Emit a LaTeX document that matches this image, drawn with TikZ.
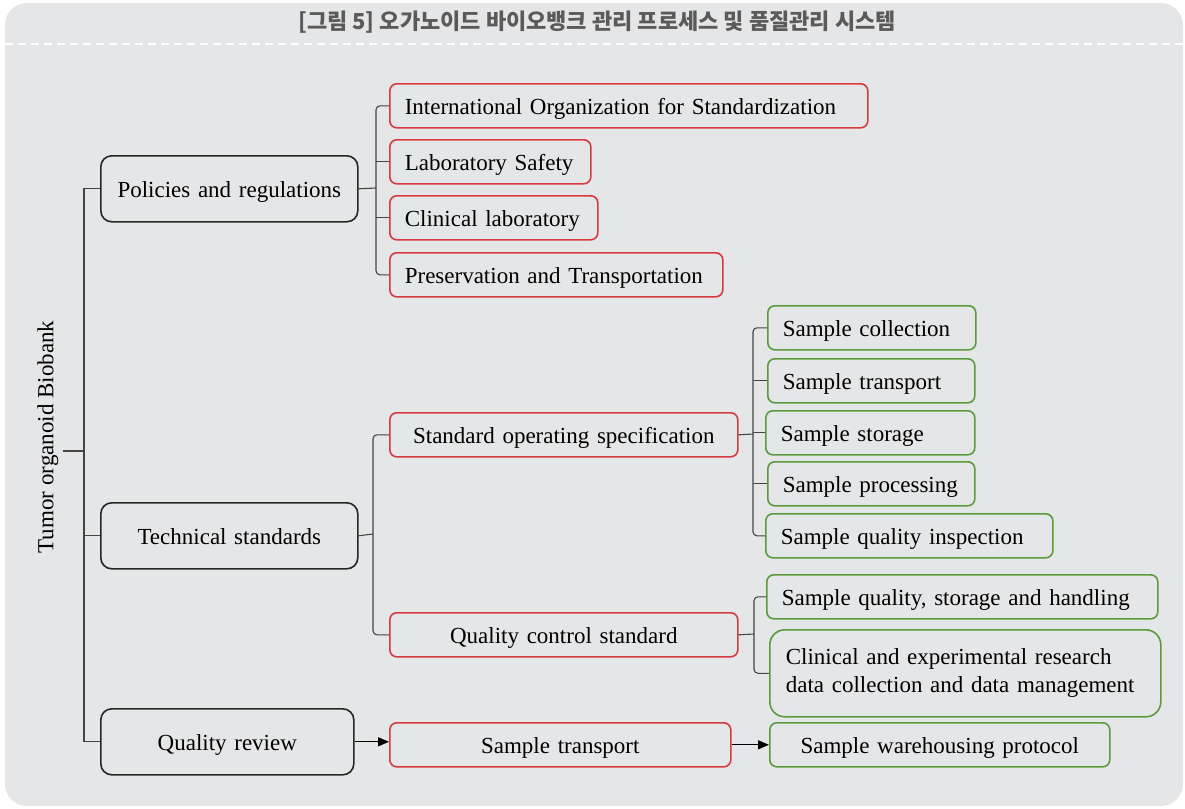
\documentclass[tikz,border=0pt]{standalone}
\usepackage{fontspec}
\setmainfont{Liberation Serif}
\newfontfamily\krfont{Noto Sans CJK KR}
\usetikzlibrary{arrows.meta}
\definecolor{panelgray}{HTML}{E5E6E8}
\definecolor{titlegray}{HTML}{5A5A5A}
\definecolor{boxred}{HTML}{D63A3F}
\definecolor{boxgreen}{HTML}{5B9B3C}
\definecolor{boxblack}{HTML}{262626}
\definecolor{linegray}{HTML}{444444}
\newcommand\diafont{\fontsize{23}{28}\selectfont}

\begin{document}
\begin{tikzpicture}[x=1pt,y=-1pt,
  box/.style={rounded corners=7pt, line width=1.6pt, inner xsep=15pt, inner ysep=0pt,
    anchor=north west, minimum height=44pt, font=\diafont, text=black,
    text height=20pt, text depth=2pt},
  topbox/.style={box, draw=boxblack, rounded corners=11pt, minimum height=66pt, align=center},
  redbox/.style={box, draw=boxred},
  greenbox/.style={box, draw=boxgreen},
  conn/.style={draw=linegray, line width=1.1pt},
  brk/.style={conn, rounded corners=4pt},
  arr/.style={conn, -{Triangle[length=11pt,width=9pt]}, draw=black}]
\useasboundingbox (0,0) rectangle (1185,808);
\fill[panelgray, rounded corners=22pt] (5,3) rectangle (1183,806);
\node[text=titlegray, font=\krfont\bfseries\fontsize{22}{24}\selectfont] (title) at (597,22) {[그림 5] 오가노이드 바이오뱅크 관리 프로세스 및 품질관리 시스템};
\draw[white, line width=2pt, dash pattern=on 8pt off 5pt] (5,44) -- (1183,44);

% root and first level
\node[rotate=90, font=\diafont, inner sep=4pt] (root) at (48,437) {Tumor organoid Biobank};
\node[topbox, text width=227pt] (pol) at (100,155) {Policies and regulations};
\node[topbox, text width=227pt] (tech) at (100,502) {Technical standards};
\node[topbox, text width=223pt] (qrev) at (100,708) {Quality review};

% second level
\node[redbox, text width=448pt, align=left] (iso) at (389,83) {International Organization for Standardization};
\node[redbox, text width=171pt, align=left] (lab) at (389,139) {Laboratory Safety};
\node[redbox, text width=178pt, align=left] (cli) at (389,195) {Clinical laboratory};
\node[redbox, text width=303pt, align=left] (pre) at (389,252) {Preservation and Transportation};
\node[redbox, text width=318pt, align=center] (sos) at (389,412) {Standard operating specification};
\node[redbox, text width=318pt, align=center] (qcs) at (389,612) {Quality control standard};
\node[redbox, text width=311pt, align=center] (str) at (389,722) {Sample transport};

% third level
\node[greenbox, text width=178pt, align=left] (col) at (767,305) {Sample collection};
\node[greenbox, text width=177pt, align=left] (tra) at (767,358) {Sample transport};
\node[greenbox, text width=179pt, align=left] (sto) at (765,410) {Sample storage};
\node[greenbox, text width=177pt, align=left] (pro) at (767,461) {Sample processing};
\node[greenbox, text width=257pt, align=left] (ins) at (765,513) {Sample quality inspection};
\node[greenbox, text width=361pt, align=left] (qsh) at (766,574) {Sample quality, storage and handling};
\node[greenbox, text width=359pt, align=left, rounded corners=15pt, minimum height=87pt, inner xsep=16pt,
  text height={}, text depth={}] (cer) at (769,629) {Clinical and experimental research\\data collection and data management};
\node[greenbox, text width=310pt, align=center] (war) at (769,722) {Sample warehousing protocol};

% trunk
\coordinate (t) at (84,451);
\draw[conn] (root.south |- t) -- (t);
\draw[conn] (pol.west) -| (t) |- (qrev.west);
\draw[conn] (tech.west) -- (tech.west -| t);

% brackets
\coordinate (b1) at (376,188);
\draw[conn] (pol.east) -- (b1);
\draw[brk] (iso.west) -| (b1) |- (pre.west);
\draw[conn] (lab.west) -- (lab.west -| b1);
\draw[conn] (cli.west) -- (cli.west -| b1);

\coordinate (b2) at (373,534);
\draw[conn] (tech.east) -- (b2);
\draw[brk] (sos.west) -| (b2) |- (qcs.west);

\coordinate (b3) at (753,434);
\draw[conn] (sos.east) -- (b3);
\draw[brk] (col.west) -| (b3) |- (ins.west);
\draw[conn] (tra.west) -- (tra.west -| b3);
\draw[conn] (sto.west) -- (sto.west -| b3);
\draw[conn] (pro.west) -- (pro.west -| b3);

\coordinate (b4) at (754,634);
\draw[conn] (qcs.east) -- (b4);
\draw[brk] (qsh.west) -| (b4) |- (cer.west);

% arrows
\draw[arr] (qrev.east) -- (qrev.east -| str.west);
\draw[arr] (str.east) -- (war.west);
\end{tikzpicture}
\end{document}
